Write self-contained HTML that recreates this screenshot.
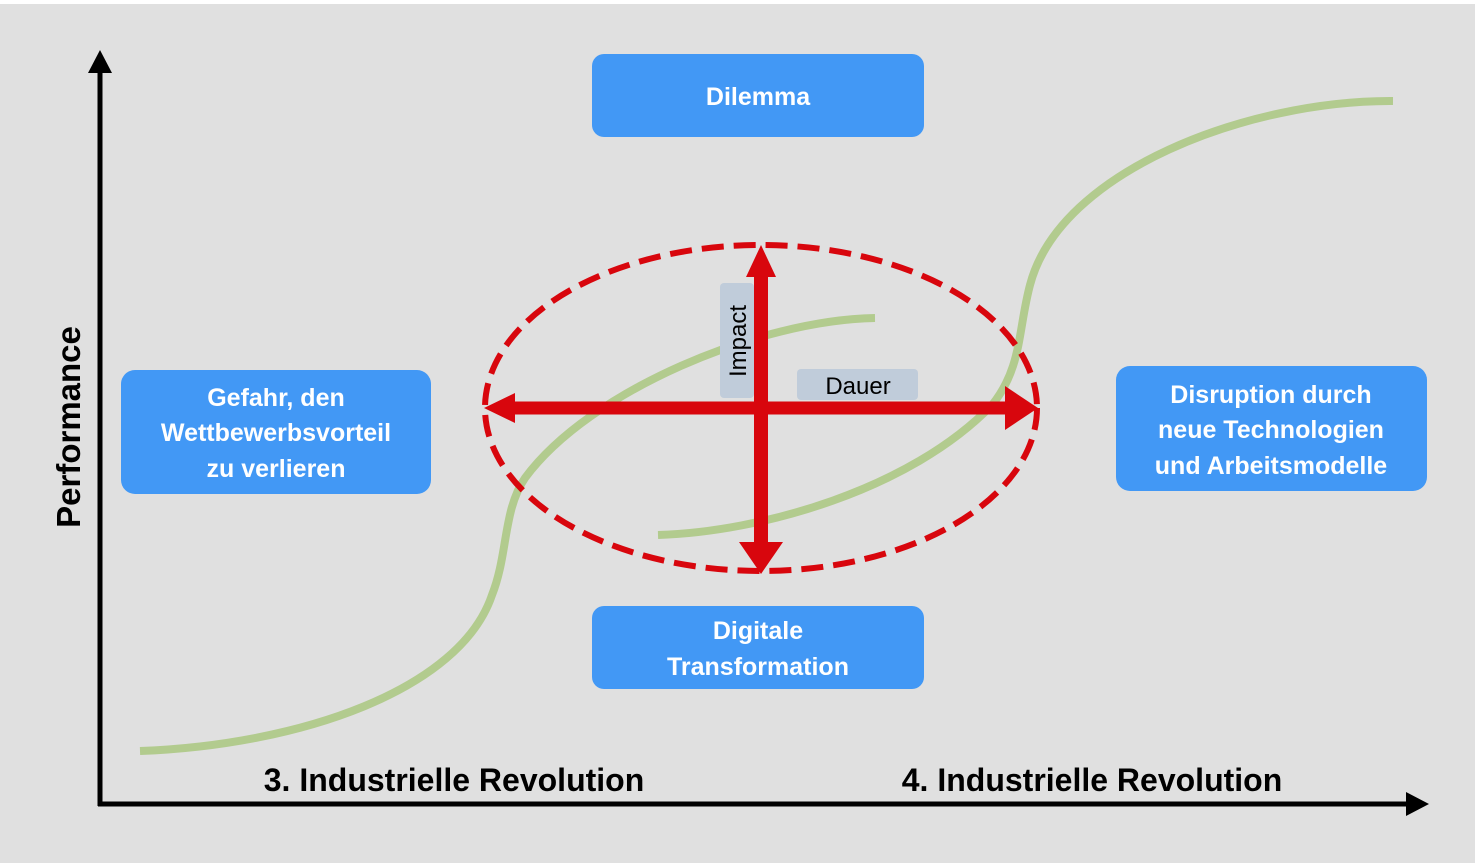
<!DOCTYPE html>
<html><head><meta charset="utf-8"><style>
html,body{margin:0;padding:0;background:#fff;}
svg{display:block;}
text{font-family:"Liberation Sans",sans-serif;}
</style></head><body>
<svg width="1479" height="863" viewBox="0 0 1479 863" xmlns="http://www.w3.org/2000/svg">
<rect x="0" y="4" width="1475" height="859" fill="#e0e0e0"/>
<!-- curves -->
<path d="M140,751 C300,745 460,690 492,595 C508,555 503,510 525,478 C590,390 760,320 875,318" fill="none" stroke="#b2cb8e" stroke-width="8"/>
<path d="M658,535 C760,532 910,490 992,405 C1022,368 1018,330 1030,285 C1060,170 1250,100 1393,101" fill="none" stroke="#b2cb8e" stroke-width="8"/>
<!-- axes -->
<line x1="100" y1="806" x2="100" y2="70" stroke="#000" stroke-width="5"/>
<polygon points="100,50 88,73 112,73" fill="#000"/>
<line x1="98" y1="804" x2="1410" y2="804" stroke="#000" stroke-width="5"/>
<polygon points="1429,804 1406,792 1406,816" fill="#000"/>
<text x="0" y="0" transform="translate(80,427) rotate(-90)" text-anchor="middle" font-size="33" font-weight="bold">Performance</text>
<text x="454" y="791" text-anchor="middle" font-size="32" font-weight="bold">3. Industrielle Revolution</text>
<text x="1092" y="791" text-anchor="middle" font-size="32" font-weight="bold">4. Industrielle Revolution</text>
<!-- boxes -->
<g fill="#4298f5">
<rect x="592" y="54" width="332" height="83" rx="12"/>
<rect x="121" y="370" width="310" height="124" rx="14"/>
<rect x="1116" y="366" width="311" height="125" rx="14"/>
<rect x="592" y="606" width="332" height="83" rx="12"/>
</g>
<g fill="#fff" font-weight="bold" font-size="25" text-anchor="middle">
<text x="758" y="105">Dilemma</text>
<text x="276" y="406">Gefahr, den</text>
<text x="276" y="441">Wettbewerbsvorteil</text>
<text x="276" y="477">zu verlieren</text>
<text x="1271" y="403">Disruption durch</text>
<text x="1271" y="438">neue Technologien</text>
<text x="1271" y="474">und Arbeitsmodelle</text>
<text x="758" y="639">Digitale</text>
<text x="758" y="675">Transformation</text>
</g>
<!-- labels -->
<rect x="720" y="283" width="34" height="115" rx="4" fill="#c0ccda"/>
<text x="0" y="0" transform="translate(746,341) rotate(-90)" text-anchor="middle" font-size="24">Impact</text>
<rect x="797" y="369" width="121" height="31" rx="4" fill="#c0ccda"/>
<text x="858" y="394" text-anchor="middle" font-size="24">Dauer</text>
<!-- ellipse -->
<ellipse cx="761" cy="408" rx="276" ry="163" fill="none" stroke="#d8060d" stroke-width="6" stroke-dasharray="22 10"/>
<!-- cross arrows -->
<line x1="510" y1="408" x2="1010" y2="408" stroke="#d8060d" stroke-width="13"/>
<polygon points="484,408 515,393 515,423" fill="#d8060d"/>
<polygon points="1038,408 1005,386 1005,430" fill="#d8060d"/>
<line x1="761" y1="272" x2="761" y2="548" stroke="#d8060d" stroke-width="14"/>
<polygon points="761,245 746,277 776,277" fill="#d8060d"/>
<polygon points="761,574 739,542 783,542" fill="#d8060d"/>
</svg>
</body></html>
